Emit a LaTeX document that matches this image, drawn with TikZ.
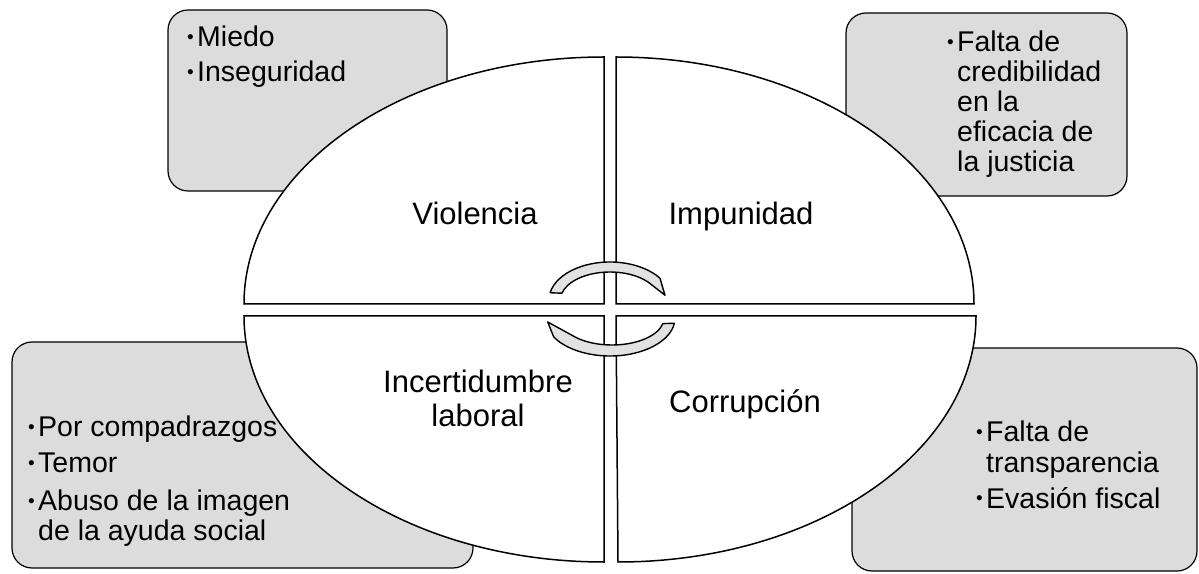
\documentclass[tikz,border=0pt]{standalone}
\usepackage{fontspec}
\setmainfont{Liberation Sans}
\definecolor{boxgray}{RGB}{220,220,220}
\definecolor{arrgray}{RGB}{226,226,226}
\newcommand\bul{\llap{\raisebox{3pt}{\fontsize{19}{19}\selectfont •}\hspace{3.5pt}}}
\begin{document}
\begin{tikzpicture}[x=1pt,y=1pt,
  boxsty/.style={draw=black, line width=1.2pt, fill=boxgray, rounded corners=20pt},
  quad/.style={draw=black, line width=1.5pt, fill=white},
  arrsty/.style={draw=black, line width=1.4pt, fill=arrgray, line join=round},
  itm/.style={anchor=base west, inner sep=0pt, font=\fontsize{28.5}{30}\selectfont},
  lbl/.style={anchor=base, inner sep=0pt, font=\fontsize{31}{34}\selectfont}]
\useasboundingbox (0,0) rectangle (1199,573);
% corner boxes
\draw[boxsty] (168,382) rectangle (447,563);
\draw[boxsty] (846,377) rectangle (1127,560);
\draw[boxsty] (12,5) rectangle (473,231);
\draw[boxsty] (852,2) rectangle (1197,225);
% ellipse quadrants
\draw[quad] (604,269) -- (244,269) arc[start angle=180, end angle=90, x radius=360, y radius=247] -- cycle;
\draw[quad] (616,269) -- (616,516) arc[start angle=90, end angle=0, x radius=358, y radius=247] -- cycle;
\draw[quad] (604,257) -- (244,257) arc[start angle=180, end angle=270, x radius=360, y radius=246] -- cycle;
\draw[quad] (616,257) -- (976,257) arc[start angle=0, end angle=-90, x radius=358, y radius=246] -- cycle;
% circular arrows
\coordinate (c1) at (610,273);
\coordinate (c2) at (612,255);
\draw[arrsty] ([shift={(169:61 and 38)}]c1) arc[start angle=169, end angle=35, x radius=61, y radius=38]
  -- ++(5,-17) -- ([shift={(40:49.6 and 28)}]c1) arc[start angle=40, end angle=166, x radius=49.6, y radius=28] -- cycle;
\draw[arrsty] ([shift={(-8:63 and 38)}]c2) arc[start angle=-8, end angle=-150, x radius=65, y radius=38]
  -- ++(-6,15) -- ([shift={(-140:52 and 27)}]c2) arc[start angle=-140, end angle=-12, x radius=52, y radius=27] -- cycle;
% main labels
\node[lbl] (violencia) at (475,348) {Violencia};
\node[lbl] (impunidad) at (741,348) {Impunidad};
\node[lbl] (incert) at (478,180) {Incertidumbre};
\node[lbl] (laboral) at (478,146) {laboral};
\node[lbl] (corrupcion) at (745,160) {Corrupción};
% top-left items
\node[itm] (tl1) at (197,526) {\bul Miedo};
\node[itm] (tl2) at (197,491) {\bul Inseguridad};
% top-right items
\node[itm] (tr1) at (957,521) {\bul Falta de};
\node[itm] (tr2) at (957,491) {credibilidad};
\node[itm] (tr3) at (957,461) {en la};
\node[itm] (tr4) at (957,431) {eficacia de};
\node[itm] (tr5) at (957,401) {la justicia};
% bottom-left items
\node[itm] (bl1) at (38,136) {\bul Por compadrazgos};
\node[itm] (bl2) at (38,100) {\bul Temor};
\node[itm] (bl3) at (38,63) {\bul Abuso de la imagen};
\node[itm] (bl4) at (38,33) {de la ayuda social};
% bottom-right items
\node[itm] (br1) at (986,131) {\bul Falta de};
\node[itm] (br2) at (986,100) {transparencia};
\node[itm] (br3) at (986,65) {\bul Evasión fiscal};
\end{tikzpicture}
\end{document}
